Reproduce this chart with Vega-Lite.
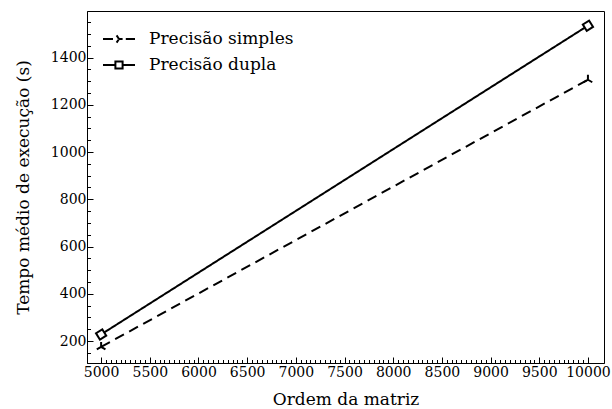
{
  "$schema": "https://vega.github.io/schema/vega-lite/v6.json",
  "width": 517,
  "height": 352,
  "autosize": "none",
  "padding": {"left": 87, "top": 11, "right": 8, "bottom": 46},
  "background": "white",
  "config": {
    "view": {"stroke": "black", "strokeWidth": 1},
    "font": "DejaVu Serif",
    "axis": {
      "labelFont": "DejaVu Serif",
      "titleFont": "DejaVu Serif",
      "labelColor": "black",
      "titleColor": "black",
      "domainColor": "black",
      "tickColor": "black",
      "grid": false,
      "titleFontWeight": "normal",
      "labelFontSize": 14,
      "titleFontSize": 17,
      "labelOverlap": false,
      "labelFlush": false,
      "labelBound": false
    }
  },
  "data": {
    "values": [
      {"n": 5000, "t": 175, "serie": "Precisão simples"},
      {"n": 10000, "t": 1306, "serie": "Precisão simples"},
      {"n": 5000, "t": 228, "serie": "Precisão dupla"},
      {"n": 10000, "t": 1535, "serie": "Precisão dupla"}
    ]
  },
  "encoding": {
    "x": {
      "field": "n",
      "type": "quantitative",
      "scale": {"domain": [4855, 10165], "nice": false, "zero": false},
      "axis": {
        "title": "Ordem da matriz",
        "format": "d",
        "values": [5000,5050,5100,5150,5200,5250,5300,5350,5400,5450,5500,5550,5600,5650,5700,5750,5800,5850,5900,5950,6000,6050,6100,6150,6200,6250,6300,6350,6400,6450,6500,6550,6600,6650,6700,6750,6800,6850,6900,6950,7000,7050,7100,7150,7200,7250,7300,7350,7400,7450,7500,7550,7600,7650,7700,7750,7800,7850,7900,7950,8000,8050,8100,8150,8200,8250,8300,8350,8400,8450,8500,8550,8600,8650,8700,8750,8800,8850,8900,8950,9000,9050,9100,9150,9200,9250,9300,9350,9400,9450,9500,9550,9600,9650,9700,9750,9800,9850,9900,9950,10000],
        "labelExpr": "datum.value % 500 === 0 ? datum.label : ''",
        "tickSize": {"condition": {"test": "datum.value % 500 === 0", "value": -6}, "value": -3.5},
        "labelPadding": 8,
        "titleY": 41,
        "titleBaseline": "alphabetic"
      }
    },
    "y": {
      "field": "t",
      "type": "quantitative",
      "scale": {"domain": [107, 1597], "nice": false, "zero": false},
      "axis": {
        "title": "Tempo médio de execução (s)",
        "format": "d",
        "values": [150,200,250,300,350,400,450,500,550,600,650,700,750,800,850,900,950,1000,1050,1100,1150,1200,1250,1300,1350,1400,1450,1500,1550],
        "labelExpr": "datum.value % 200 === 0 ? datum.label : ''",
        "tickSize": {"condition": {"test": "datum.value % 200 === 0", "value": -6}, "value": -3.5},
        "labelPadding": 7,
        "titleX": -64,
        "titleBaseline": "middle"
      }
    }
  },
  "layer": [
    {
      "mark": {"type": "line", "color": "black", "strokeWidth": 2},
      "encoding": {
        "strokeDash": {
          "field": "serie",
          "type": "nominal",
          "scale": {"domain": ["Precisão simples", "Precisão dupla"], "range": [[10, 6], [1, 0]]},
          "legend": {
            "orient": "none",
            "legendX": 23,
            "legendY": 19,
            "padding": 0,
            "title": null,
            "labelFont": "DejaVu Serif",
            "labelFontSize": 17,
            "labelColor": "black",
            "labelLimit": 300,
            "symbolSize": 256,
            "labelOffset": 21,
            "rowPadding": 9,
            "symbolStrokeWidth": 2,
            "symbolStrokeColor": "black",
            "symbolFillColor": "white",
            "encode": {
              "symbols": {
                "update": {
                  "shape": {"signal": "datum.value === 'Precisão simples' ? 'M-2,0H-0.35M0,0L-0.3,-0.45M0,0L-0.3,0.45M0,0H0.45M0.85,0H2' : 'M-2,0H-0.45M0.45,0H2M-0.45,-0.45H0.45V0.45H-0.45Z'"},
                  "strokeDash": {"value": [1, 0]},
                  "fill": {"value": "white"},
                  "stroke": {"value": "black"},
                  "strokeWidth": {"value": 2}
                }
              }
            }
          }
        }
      }
    },
    {
      "transform": [{"filter": "datum.serie === 'Precisão dupla'"}],
      "mark": {"type": "point", "shape": "square", "filled": true, "fill": "white", "stroke": "black", "strokeWidth": 2, "size": 55, "angle": -32, "opacity": 1}
    },
    {
      "transform": [{"filter": "datum.serie === 'Precisão simples'"}],
      "mark": {"type": "point", "shape": "M0,0L0,-1M0,0L-0.866,0.5M0,0L0.866,0.5", "filled": false, "stroke": "black", "strokeWidth": 2, "size": 100, "opacity": 1}
    }
  ]
}
